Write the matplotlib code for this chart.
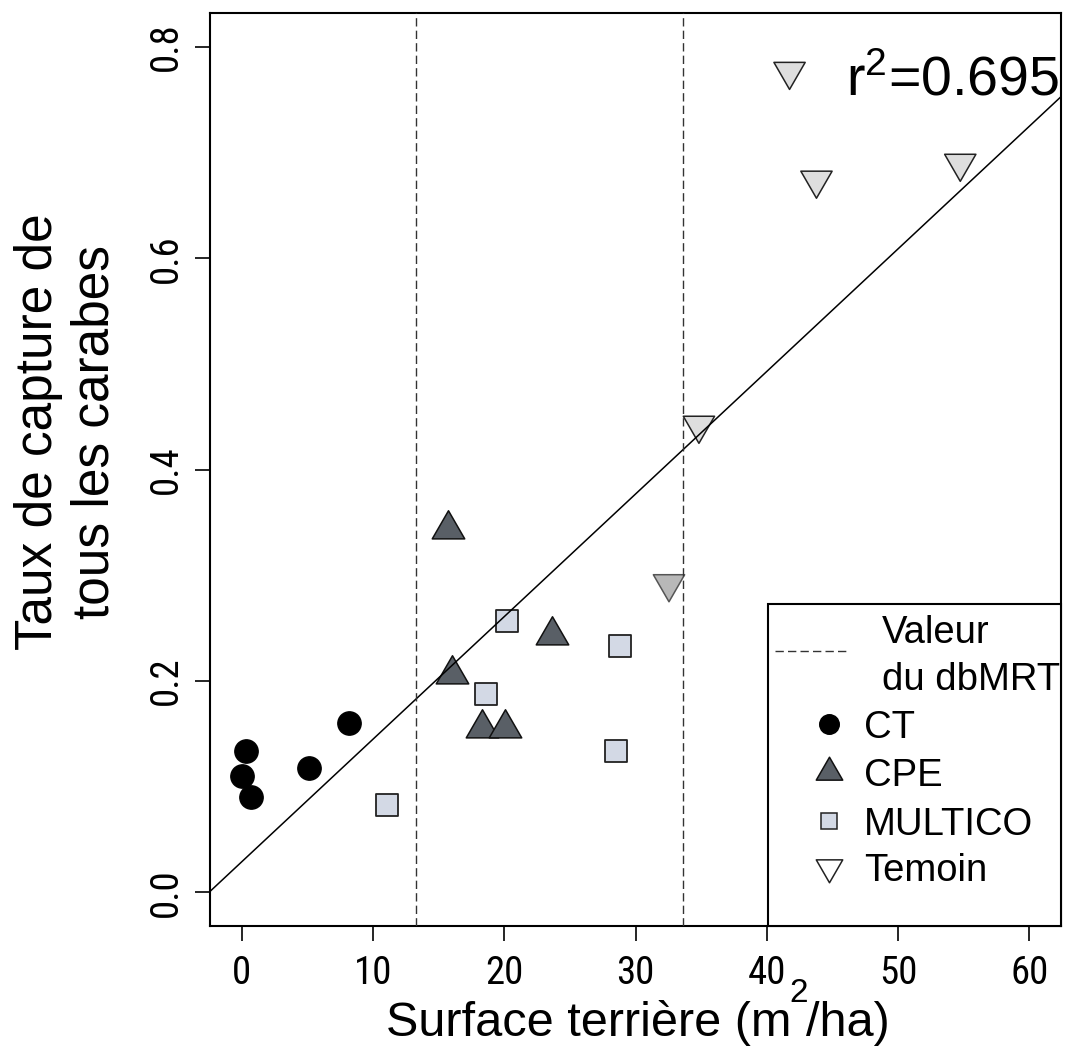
import matplotlib
matplotlib.use('Agg')
import matplotlib.pyplot as plt
from matplotlib.path import Path
from matplotlib.patches import Rectangle
from matplotlib.lines import Line2D

# ---------------- data ----------------
ct_x = [0.02, 0.36, 0.74, 5.12, 8.21]
ct_y = [0.110, 0.134, 0.090, 0.118, 0.160]
cpe_x = [15.74, 23.67, 15.99, 18.30, 20.05]
cpe_y = [0.344, 0.243, 0.207, 0.155, 0.155]
multico_x = [20.2, 18.6, 28.8, 28.5, 11.05]
multico_y = [0.257, 0.188, 0.233, 0.134, 0.083]
temoin_x = [41.73, 43.78, 54.73, 34.83, 32.55]
temoin_y = [0.777, 0.674, 0.690, 0.442, 0.292]
temoin_fill = ['#dedede', '#dedede', '#dedede', '#dedede', '#b8b8b8']
dbmrt_values = [13.3, 33.6]
reg_intercept = 0.0286
reg_slope = 0.01161
r2_text = r'$\mathregular{r^2}$=0.695'
x_ticks = [0, 10, 20, 30, 40, 50, 60]
y_ticks = [0.0, 0.2, 0.4, 0.6, 0.8]
group_labels = ['CT', 'CPE', 'MULTICO', 'Temoin']
line_label = ['Valeur', 'du dbMRT']
x_label_parts = ['Surface terrière (m', '2', '/ha)']
y_label = 'Taux de capture de\ntous les carabes'

plt.rcParams['font.family'] = ['Liberation Sans', 'DejaVu Sans']
plt.rcParams['mathtext.fontset'] = 'custom'
plt.rcParams['mathtext.rm'] = 'Liberation Sans'
TICKFONT = ['Liberation Sans Narrow', 'Arial Narrow', 'Roboto Condensed',
            'Liberation Sans', 'DejaVu Sans']

W, H = 1065, 1051
fig = plt.figure(figsize=(W / 100, H / 100), dpi=100)
AX_L, AX_R, AX_T, AX_B = 210, 1061, 13.3, 926
ax = fig.add_axes([AX_L / W, 1 - AX_B / H, (AX_R - AX_L) / W, (AX_B - AX_T) / H])


def af(px, py):
    """pixel position -> axes fraction (layout helper for the legend)"""
    return (px - AX_L) / (AX_R - AX_L), (AX_B - py) / (AX_B - AX_T)


# R style triangles (centroid at marker centre)
tri_up = Path([(0, 1.555), (1.347, -0.778), (-1.347, -0.778), (0, 1.555)],
              [Path.MOVETO, Path.LINETO, Path.LINETO, Path.CLOSEPOLY])
tri_down = Path([(0, -1.555), (1.347, 0.778), (-1.347, 0.778), (0, -1.555)],
                [Path.MOVETO, Path.LINETO, Path.LINETO, Path.CLOSEPOLY])

CPE_FILL = '#595f66'
MUL_FILL = '#d3d9e5'

ax.scatter(ct_x, ct_y, s=16.8 ** 2, marker='o', c='black', edgecolors='black',
           linewidths=1.0, zorder=2)
ax.scatter(cpe_x, cpe_y, s=27 ** 2, marker=tri_up, c=CPE_FILL, edgecolors='#111111',
           linewidths=1.1, zorder=2)
ax.scatter(multico_x, multico_y, s=15.4 ** 2, marker='s', c=MUL_FILL,
           edgecolors='#222222', linewidths=1.3, zorder=2)
ax.scatter(temoin_x, temoin_y, s=26 ** 2, marker=tri_down, c=temoin_fill,
           edgecolors=['#222222'] * 4 + ['#555555'], linewidths=1.1, zorder=2)

ax.axline((0, reg_intercept), slope=reg_slope, color='black', lw=1.1, zorder=3)
for v in dbmrt_values:
    ax.axvline(v, color='#333333', lw=1.0, dashes=(6, 3), zorder=3)

ax.set_xlim(-2.4, 62.4)
ax.set_ylim(-0.032, 0.832)
ax.set_xticks(x_ticks)
ax.set_xticklabels([str(t) for t in x_ticks])
ax.set_yticks(y_ticks)
ax.set_yticklabels(['%.1f' % t for t in y_ticks])
for sp in ax.spines.values():
    sp.set_linewidth(1.5)
ax.tick_params(direction='out', length=11, width=1.2, labelsize=28)
ax.tick_params(axis='x', pad=10)
ax.tick_params(axis='y', pad=7, labelrotation=90)
for lab in ax.get_xticklabels() + ax.get_yticklabels():
    lab.set_family(TICKFONT)
for lab in ax.get_yticklabels():
    lab.set_va('center')

# r^2 text
ax.text(*af(1059, 96), r2_text, transform=ax.transAxes, ha='right',
        va='baseline', fontsize=40)

# x axis label: main text + raised superscript, laid out left to right
renderer = fig.canvas.get_renderer()
XL_START, XL_BASE, SUP_BASE = 364, 1036, 1002
t1 = fig.text(XL_START / W, 1 - XL_BASE / H, x_label_parts[0], ha='left',
              va='baseline', fontsize=35)
bb1 = t1.get_window_extent(renderer)
GAP = -2
# keep the superscript clear of the tick label above it
tick_bbs = [lab.get_window_extent(renderer) for lab in ax.get_xticklabels()]
sup_left = bb1.x1 + GAP
for tb in tick_bbs:
    if tb.x0 - 2 < sup_left + 14 and sup_left < tb.x1 + 2:
        shift = tb.x1 + 3 - sup_left
        t1.set_x((XL_START + shift) / W)
        bb1 = t1.get_window_extent(renderer)
        sup_left = bb1.x1 + GAP
t2 = fig.text(sup_left / W, 1 - SUP_BASE / H, x_label_parts[1], ha='left',
              va='baseline', fontsize=24)
bb2 = t2.get_window_extent(renderer)
fig.text((bb2.x1 + GAP) / W, 1 - XL_BASE / H, x_label_parts[2], ha='left',
         va='baseline', fontsize=35)

# y axis label
fig.text(67 / W, 1 - 432 / H, y_label, rotation=90, ha='center', va='center',
         fontsize=37, multialignment='center')

# legend (drawn in axes fraction)
x0, y0 = af(767.7, 604.3)
ax.add_patch(Rectangle((x0, 0), 1 - x0, y0, transform=ax.transAxes,
                       facecolor='white', edgecolor='black', lw=1.5, zorder=4,
                       clip_on=False))
lx0, ly = af(775, 651)
lx1, _ = af(848, 651)
ax.add_line(Line2D([lx0, lx1], [ly, ly], transform=ax.transAxes, color='#333333',
                   lw=1.0, dashes=(6, 3), zorder=5))
tx, ty1 = af(881.7, 643)
_, ty2 = af(881.7, 690)
ax.text(tx, ty1, line_label[0], transform=ax.transAxes, ha='left', va='baseline',
        fontsize=27.5, zorder=5)
ax.text(tx, ty2, line_label[1], transform=ax.transAxes, ha='left', va='baseline',
        fontsize=27.5, zorder=5)

leg_styles = [
    dict(marker='o', markersize=14, markerfacecolor='black', markeredgecolor='black'),
    dict(marker=tri_up, markersize=22, markerfacecolor=CPE_FILL, markeredgecolor='#111111'),
    dict(marker='s', markersize=11.3, markerfacecolor=MUL_FILL, markeredgecolor='#222222'),
    dict(marker=tri_down, markersize=22, markerfacecolor='white', markeredgecolor='#222222'),
]
leg_py = [724, 771.7, 820.7, 867.3]
for lab, st, py in zip(group_labels, leg_styles, leg_py):
    mx, my = af(829.3, py)
    ax.add_line(Line2D([mx], [my], transform=ax.transAxes, linestyle='none',
                       markeredgewidth=1.1, zorder=5, **st))
    tx2, tby = af(864, py + 14)
    ax.text(tx2, tby, lab, transform=ax.transAxes, ha='left', va='baseline',
            fontsize=27.5, zorder=5)

fig.savefig('out.png', dpi=100, facecolor='white')
